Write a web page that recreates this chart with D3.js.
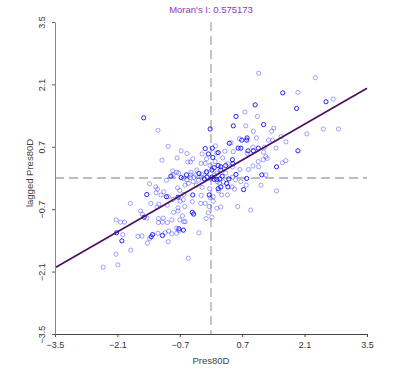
<!DOCTYPE html>
<html>
<head>
<meta charset="utf-8">
<script src="https://cdn.jsdelivr.net/npm/d3@7"></script>
<style>
  body { margin: 0; background: #fff; }
  svg { display: block; font-family: "Liberation Sans", Arial, sans-serif; }
</style>
</head>
<body>
<svg id="chart" width="400" height="373"></svg>
<script>
// Moran scatterplot values
var title = "Moran's I: 0.575173";
var moranI = 0.575173;
var xLabel = "Pres80D";
var yLabel = "lagged Pres80D";
var ticks = [-3.5, -2.1, -0.7, 0.7, 2.1, 3.5];

// standardised value, spatial lag, dark (1 = darker/overlapping ring)
var zx = [-1.51,-1.19,-0.02,-0.96,-0.67,0.10,0.03,-0.13,-1.10,-0.76,-0.54,-0.41,-0.52,-0.46,-0.20,-0.06,0.13,0.04,0.26,-0.22,
  -0.13,-0.02,0.09,0.16,0.22,0.33,0.38,0.41,-0.86,-0.90,-1.00,-0.77,-0.67,-0.55,-0.45,-0.32,-0.27,-0.38,-0.47,-0.54,
  -0.58,-0.51,-0.40,-0.33,-0.28,-0.22,-0.15,-0.09,-0.10,-0.01,0.08,0.20,0.14,0.25,0.33,0.40,0.16,-0.03,-0.20,0.35,
  0.37,-0.04,0.05,-0.13,-0.04,0.22,-0.22,-0.41,-0.61,-0.74,-0.85,-0.69,-0.75,-0.70,-1.06,-1.00,-1.12,-1.20,-1.23,-1.38,
  -1.44,-1.35,-1.21,-1.81,-0.98,-0.74,-0.42,-0.23,
  1.07,2.34,1.61,1.95,2.58,2.74,1.92,0.99,0.76,0.56,1.04,0.50,0.78,1.18,0.95,1.36,1.41,2.52,2.86,2.15,
  1.57,1.68,1.38,1.29,1.02,0.81,0.80,0.69,0.64,0.45,0.61,0.67,0.50,0.31,0.16,-0.10,0.48,0.49,0.48,0.65,
  0.84,0.94,1.07,1.06,1.23,1.26,1.17,0.94,0.95,0.83,0.81,1.06,1.18,1.20,1.46,1.47,1.60,1.68,1.95,1.14,
  1.23,0.80,1.12,1.47,0.73,0.79,0.67,0.55,0.48,0.56,0.13,0.28,0.38,0.47,0.53,0.22,0.17,0.24,0.60,0.89,
  -0.02,0.02,-0.21,-0.10,0.07,0.22,0.13,0.02,0.07,0.19,
  -2.13,-2.03,-1.94,-2.12,-2.00,-1.98,-1.80,-2.13,-2.09,-2.42,-1.58,-1.54,-1.50,-1.44,-1.24,-1.18,-1.07,-1.09,-1.18,-0.98,
  -0.88,-0.84,-0.74,-0.64,-0.61,-0.72,-0.72,-0.77,-0.88,-0.95,-1.03,-1.09,-1.19,-1.31,-1.34,-1.38,-1.55,-1.64,-1.43,-0.96,
  -0.51,-0.58,-0.42,-0.39,-0.27,-0.11,0.02,-0.59,-1.17,-0.62,-0.06,0.13,0.05,-0.96,-0.62,-0.70,-0.77,
  -0.85,-0.73,-0.62,-0.46,-0.34];
var lag = [1.35,1.07,1.10,0.71,0.61,0.72,0.67,0.66,0.40,0.45,0.55,0.43,0.36,0.36,0.54,0.54,0.56,0.46,0.45,0.33,
  0.33,0.28,0.37,0.28,0.25,0.28,0.32,0.78,0.16,0.04,-0.05,0.13,0.01,0.07,0.13,0.18,0.10,0.02,0.01,-0.04,
  -0.16,-0.12,-0.08,-0.16,-0.05,0.02,-0.02,0.02,0.11,-0.02,0.07,-0.02,-0.08,0.04,0.11,-0.02,-0.24,-0.24,-0.21,-0.12,
  -0.38,-0.38,-0.52,-0.57,-0.64,-0.65,-0.39,-0.38,-0.37,-0.43,-0.48,-0.52,-0.22,-0.28,-0.31,-0.42,-0.38,-0.25,-0.33,-0.13,
  -0.37,-0.57,-0.65,-0.57,-0.61,-0.67,-0.53,-0.57,
  2.35,2.25,1.91,1.92,1.71,1.77,1.56,1.64,1.48,1.38,1.38,1.17,1.17,1.20,1.05,1.05,1.12,1.10,1.10,0.99,
  0.93,0.81,0.85,0.85,0.90,0.90,0.85,0.85,0.88,0.79,0.67,0.67,0.59,0.60,0.57,0.43,0.41,0.32,0.25,0.19,
  0.19,0.27,0.25,0.37,0.48,0.44,0.41,0.69,0.61,0.61,0.55,0.67,0.58,0.69,0.67,0.25,0.34,0.39,0.61,0.07,
  0.07,-0.01,-0.16,-0.29,-0.26,-0.16,-0.08,-0.04,0.02,0.08,-0.03,-0.09,-0.20,-0.20,-0.25,-0.20,-0.29,-0.38,-0.64,-0.72,
  -0.44,0.18,0.08,0.14,0.23,0.18,0.11,0.02,-0.03,-0.12,
  -0.94,-0.99,-0.99,-1.23,-1.41,-1.27,-1.62,-1.71,-1.95,-2.00,-0.74,-0.81,-0.88,-0.90,-0.20,-0.91,-0.90,-0.99,-1.00,-1.00,
  -0.94,-0.77,-0.74,-0.85,-0.98,-1.14,-1.18,-1.24,-1.25,-1.19,-1.23,-1.29,-1.24,-1.27,-1.32,-1.36,-1.30,-1.31,-1.46,-1.43,
  -1.80,-0.98,-0.77,-0.81,-1.23,-0.91,-0.88,-0.64,-0.59,-1.17,-0.78,-0.68,-0.42,-0.42,-0.49,-0.94,-1.13,
  0.07,0.11,-0.01,0.07,0.07];
var dark = [1,0,1,0,0,0,1,1,0,0,0,0,0,0,0,1,0,1,0,0,
  0,0,0,1,1,1,0,1,0,1,0,0,1,1,0,0,1,0,0,0,
  0,0,0,0,0,0,1,1,0,0,0,1,0,1,0,1,1,0,0,1,
  0,1,0,0,0,0,0,1,0,1,0,0,0,0,0,1,0,0,0,0,
  1,0,0,0,0,0,0,0,
  0,0,1,0,1,0,1,1,0,1,0,1,0,1,0,0,0,0,0,0,
  0,0,0,0,0,1,1,1,0,0,1,1,0,0,1,0,1,1,0,0,
  0,0,0,0,0,0,0,0,1,1,0,1,0,0,0,1,0,0,1,1,
  0,1,0,0,1,0,0,0,0,1,1,0,1,0,0,1,0,0,0,0,
  0,1,0,1,1,1,0,1,1,0,
  0,0,0,1,1,0,0,0,0,0,0,0,1,0,0,0,0,0,0,0,
  0,0,0,0,0,1,0,0,0,0,0,1,0,1,1,0,0,0,0,0,
  0,0,1,1,0,0,0,0,0,1,0,0,0,0,0,0,0,
  0,0,0,0,0];

var svg = d3.select("#chart"),
    margin = { top: 22, left: 55, bottom: 39, right: 33 },
    width = +svg.attr("width"),
    height = +svg.attr("height");

var x = d3.scaleLinear().domain([-3.5, 3.5]).range([margin.left, width - margin.right]);
var y = d3.scaleLinear().domain([-3.5, 3.5]).range([height - margin.bottom, margin.top]);

// mean lines
svg.append("line")
    .attr("x1", x(0)).attr("x2", x(0))
    .attr("y1", y(3.5)).attr("y2", y(-3.5))
    .attr("stroke", "#a8a8a8").attr("stroke-width", 1.3)
    .attr("stroke-dasharray", "9,5");
svg.append("line")
    .attr("x1", x(-3.5)).attr("x2", x(3.5))
    .attr("y1", y(0)).attr("y2", y(0))
    .attr("stroke", "#a8a8a8").attr("stroke-width", 1.3)
    .attr("stroke-dasharray", "9,5");

// points
var pts = zx.map((v, i) => ({ x: v, y: lag[i], d: dark[i] }));
svg.append("g").selectAll("circle")
    .data(pts)
    .enter().append("circle")
    .attr("cx", d => x(d.x))
    .attr("cy", d => y(d.y))
    .attr("r", 2.1)
    .attr("fill", "none")
    .attr("stroke", "#0000ff")
    .attr("stroke-width", 0.9)
    .attr("stroke-opacity", d => d.d ? 0.95 : 0.4);

// regression line, slope = Moran's I
svg.append("line")
    .attr("x1", x(-3.5)).attr("y1", y(-3.5 * moranI))
    .attr("x2", x(3.5)).attr("y2", y(3.5 * moranI))
    .attr("stroke", "#4a0f5e").attr("stroke-width", 1.6);

// axes
var xAxis = svg.append("g")
    .attr("transform", `translate(0,${y(-3.5)})`)
    .call(d3.axisBottom(x).tickValues(ticks).tickFormat(d3.format("")).tickSize(3).tickSizeOuter(0));
xAxis.select(".domain").attr("stroke", "#444").attr("stroke-width", 1.2);
xAxis.selectAll(".tick line").attr("stroke", "#444");
xAxis.selectAll("text").attr("fill", "#333").attr("font-size", 9).attr("dy", "0.9em");

var yAxis = svg.append("g")
    .attr("transform", `translate(${x(-3.5)},0)`)
    .call(d3.axisLeft(y).tickValues(ticks).tickFormat(d3.format("")).tickSize(3).tickSizeOuter(0));
yAxis.select(".domain").attr("stroke", "#888").attr("stroke-width", 1);
yAxis.selectAll(".tick line").attr("stroke", "#555");
yAxis.selectAll("text")
    .attr("fill", "#333").attr("font-size", 9)
    .attr("x", 0).attr("dy", 0)
    .attr("text-anchor", "middle")
    .attr("transform", "translate(-10,0) rotate(-90)");

// labels
svg.append("text")
    .attr("x", x(0)).attr("y", 13)
    .attr("text-anchor", "middle")
    .attr("font-size", 9.5)
    .attr("fill", "#8e3bb5")
    .text(title);
svg.append("text")
    .attr("x", x(0)).attr("y", 364)
    .attr("text-anchor", "middle")
    .attr("font-size", 9.5)
    .attr("fill", "#444")
    .text(xLabel);
svg.append("text")
    .attr("transform", `translate(33,${y(0) - 5}) rotate(-90)`)
    .attr("text-anchor", "middle")
    .attr("font-size", 9.5)
    .attr("fill", "#444")
    .text(yLabel);
</script>
</body>
</html>
